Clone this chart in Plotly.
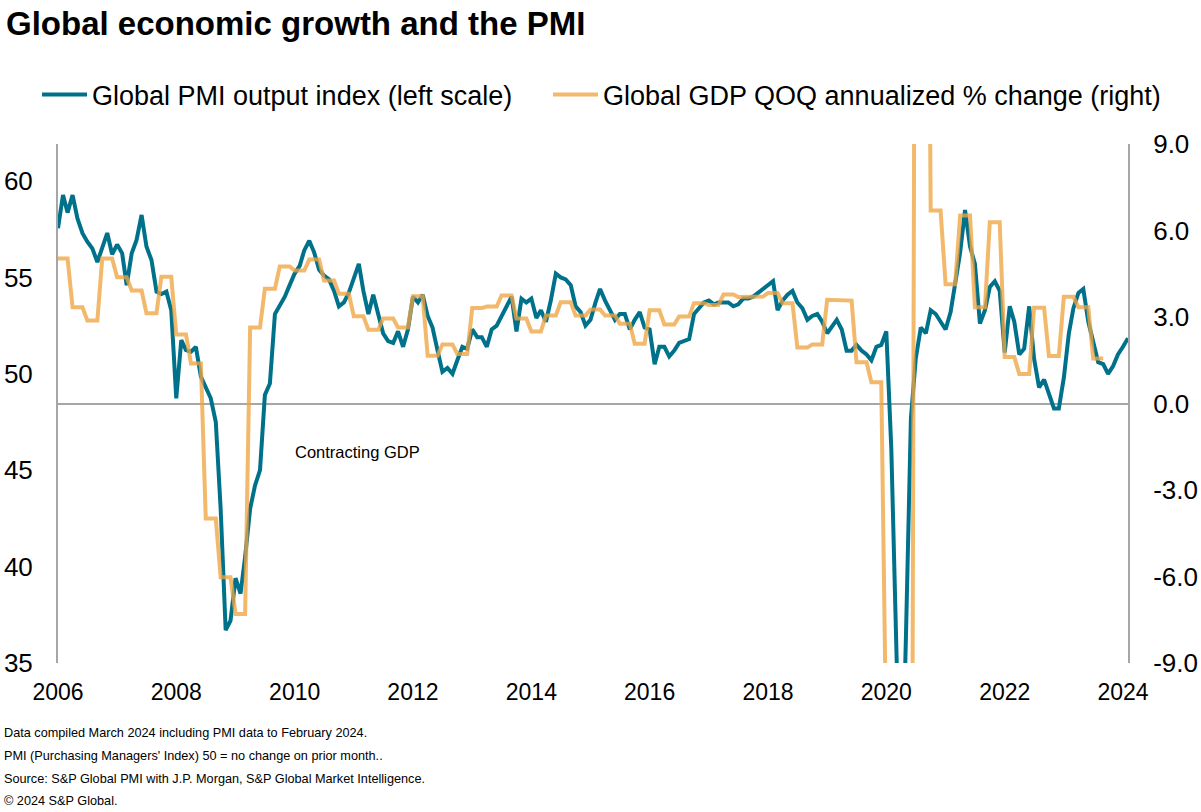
import pandas as pd
import plotly.graph_objects as go

# ---------------- data ----------------
start_month = "2006-01-01"

pmi_output = [
    57.55, 59.27, 58.36, 59.27, 58.06, 57.29, 56.85, 56.5, 55.8, 56.5, 57.3, 56.2,   # 2006
    56.7, 56.25, 54.6, 56.25, 56.94, 58.24, 56.6, 55.9, 54.26, 54.14, 54.26, 53.3,   # 2007
    48.73, 51.75, 51.23, 51.15, 51.4, 49.85, 49.33, 48.73, 47.5, 43.0, 36.7, 37.2,   # 2008
    39.4, 38.6, 40.5, 43.0, 44.2, 45.0, 48.9, 49.5, 53.1, 53.5, 54.0, 54.6,          # 2009
    55.2, 55.6, 56.4, 56.9, 56.3, 55.4, 55.1, 54.9, 54.3, 53.5, 53.7, 54.2,          # 2010
    55.0, 55.7, 54.3, 53.1, 54.1, 53.0, 52.1, 51.7, 51.6, 52.2, 51.4, 52.3,          # 2011
    54.0, 53.7, 54.1, 53.0, 52.4, 51.2, 50.1, 50.3, 50.0, 50.7, 51.4, 51.3,          # 2012
    52.3, 51.9, 51.9, 51.4, 52.3, 52.5, 53.0, 53.5, 54.0, 52.2, 53.9, 53.7,          # 2013
    53.9, 52.9, 53.3, 52.7, 53.8, 55.2, 55.0, 54.9, 54.6, 53.5, 53.2, 52.5,          # 2014
    52.8, 53.7, 54.4, 53.8, 53.3, 52.8, 53.1, 53.1, 52.3, 52.8, 53.2, 52.4,          # 2015
    52.3, 50.5, 51.4, 51.4, 50.9, 51.2, 51.6, 51.7, 51.8, 53.1, 53.4, 53.7,          # 2016
    53.8, 53.6, 53.7, 53.7, 53.7, 53.5, 53.6, 53.9, 53.9, 54.0, 54.2, 54.4,          # 2017
    54.6, 54.8, 53.3, 53.8, 54.1, 54.3, 53.7, 53.4, 52.8, 53.0, 53.1, 52.7,          # 2018
    52.1, 52.5, 52.8, 52.3, 51.2, 51.2, 51.5, 51.2, 51.0, 50.7, 51.4, 51.5,          # 2019
    52.2, 46.1, 39.4, 26.2, 36.3, 47.7, 50.8, 52.4, 52.1, 53.3, 53.1, 52.7,          # 2020
    52.3, 53.2, 54.8, 56.3, 58.5, 56.6, 55.7, 52.6, 53.3, 54.5, 54.8, 54.3,          # 2021
    51.1, 53.5, 52.7, 51.0, 51.3, 53.5, 50.8, 49.3, 49.7, 49.0, 48.2, 48.2,          # 2022
    49.8, 52.1, 53.4, 54.2, 54.4, 52.7, 51.6, 50.6, 50.5, 50.0, 50.4, 51.0,          # 2023
    51.4, 51.85,                                                                     # 2024
]

# quarterly GDP QoQ annualized % change, 2006Q1 .. 2023Q3
gdp_quarterly = [
    5.03, 3.34, 2.88, 5.03,      # 2006
    4.38, 3.92, 3.13, 4.40,      # 2007
    2.39, 1.39, -3.99, -6.03,    # 2008
    -7.30, 2.64, 3.98, 4.75,     # 2009
    4.61, 4.99, 4.27, 3.81,      # 2010
    3.03, 2.56, 2.95, 2.64,      # 2011
    3.72, 1.66, 2.05, 1.72,      # 2012
    3.31, 3.36, 3.75, 2.95,      # 2013
    2.50, 3.05, 3.51, 3.05,      # 2014
    3.26, 3.05, 2.77, 2.07,      # 2015
    3.23, 2.74, 3.02, 3.48,      # 2016
    3.42, 3.78, 3.69, 3.71,      # 2017
    3.83, 3.48, 1.94, 2.05,      # 2018
    3.60, 3.57, 1.43, 0.74,      # 2019
    -12.0, -30.0, 30.0, 6.69,    # 2020
    4.14, 6.52, 3.34, 6.29,      # 2021
    1.61, 1.02, 3.32, 1.65,      # 2022
    3.70, 3.34, 1.56,            # 2023
]

x_tick_years = ["2006", "2008", "2010", "2012", "2014", "2016", "2018", "2020", "2022", "2024"]
left_ticks = [35, 40, 45, 50, 55, 60]
right_ticks = [-9, -6, -3, 0, 3, 6, 9]
right_tick_text = ["-9.0", "-6.0", "-3.0", "0.0", "3.0", "6.0", "9.0"]

title_text = "Global economic growth and the PMI"
pmi_name = "Global PMI output index (left scale)"
gdp_name = "Global GDP QOQ annualized % change (right)"
notes = [
    "Data compiled March 2024 including PMI data to February 2024.",
    "PMI (Purchasing Managers' Index) 50 = no change on prior month..",
    "Source: S&P Global PMI with J.P. Morgan, S&P Global Market Intelligence.",
    "\u00a9 2024 S&P Global.",
]

# ---------------- build ----------------
pmi_dates = pd.date_range(start_month, periods=len(pmi_output), freq="MS")
gdp_monthly = [v for v in gdp_quarterly for _ in range(3)]
gdp_dates = pd.date_range(start_month, periods=len(gdp_monthly), freq="MS")

FONT = "Liberation Sans, Arial, sans-serif"
TEAL = "#00718A"
ORANGE = "rgba(238,164,66,0.78)"
GREY = "#A6A6A6"

W, H = 1201, 812
L, R, T, B = 58, 1128, 144, 663
pw, ph = R - L, B - T

def px_x(x):
    return (x - L) / pw

def px_y(y):
    return (B - y) / ph

fig = go.Figure()
fig.add_trace(go.Scatter(
    x=pmi_dates, y=pmi_output, name=pmi_name, mode="lines",
    line=dict(color=TEAL, width=4), yaxis="y", legend="legend",
))
fig.add_trace(go.Scatter(
    x=gdp_dates, y=gdp_monthly, name=gdp_name, mode="lines",
    line=dict(color=ORANGE, width=4), yaxis="y2", legend="legend2",
))

fig.update_layout(
    width=W, height=H,
    margin=dict(l=L, r=W - R, t=T, b=H - B, pad=0, autoexpand=False),
    paper_bgcolor="white", plot_bgcolor="white",
    font=dict(family=FONT, color="black"),
    title=dict(text="<b>" + title_text + "</b>", x=6 / W, xanchor="left",
               xref="container", yref="container", y=1 - 23 / H, yanchor="middle",
               font=dict(size=33, family=FONT, color="black")),
    xaxis=dict(
        type="date", range=[pmi_dates[0], pmi_dates[-1]],
        tickvals=[f"{y}-01-01" for y in x_tick_years], ticktext=x_tick_years,
        showgrid=False, zeroline=False, showline=False, ticks="",
        tickfont=dict(size=23, family=FONT, color="black"),
        ticklabelstandoff=13, automargin=False,
    ),
    yaxis=dict(
        range=[35, 35 + (B - T) / 19.28], tickvals=left_ticks,
        showgrid=False, zeroline=False, showline=True, linecolor=GREY, linewidth=2,
        ticks="", tickfont=dict(size=26, family=FONT, color="black"),
        ticklabelstandoff=18, automargin=False,
    ),
    yaxis2=dict(
        range=[-9, 9], tickvals=right_ticks, ticktext=right_tick_text,
        overlaying="y", side="right", anchor="x",
        showgrid=False, zeroline=True, zerolinecolor=GREY, zerolinewidth=2,
        showline=True, linecolor=GREY, linewidth=2,
        ticks="", tickfont=dict(size=26, family=FONT, color="black"),
        ticklabelstandoff=18, automargin=False,
    ),
    legend=dict(orientation="h", x=px_x(37), xanchor="left", y=px_y(95), yanchor="middle",
                itemwidth=45, font=dict(size=27, family=FONT, color="black"),
                bgcolor="rgba(0,0,0,0)"),
    legend2=dict(orientation="h", x=px_x(548), xanchor="left", y=px_y(95), yanchor="middle",
                 itemwidth=45, font=dict(size=27, family=FONT, color="black"),
                 bgcolor="rgba(0,0,0,0)"),
    showlegend=True,
)

fig.add_annotation(text="Contracting GDP", xref="paper", yref="paper",
                   x=px_x(293), y=px_y(452), xanchor="left", yanchor="middle",
                   showarrow=False, font=dict(size=16.5, family=FONT, color="black"))

note_y = [733, 756, 779, 801]
for txt, yy in zip(notes, note_y):
    fig.add_annotation(text=txt, xref="paper", yref="paper",
                       x=px_x(2), y=px_y(yy), xanchor="left", yanchor="middle",
                       showarrow=False, font=dict(size=12.7, family=FONT, color="black"))

fig.write_html("out.html", config={"displayModeBar": False},
               post_script="document.body.style.margin='0px';")
